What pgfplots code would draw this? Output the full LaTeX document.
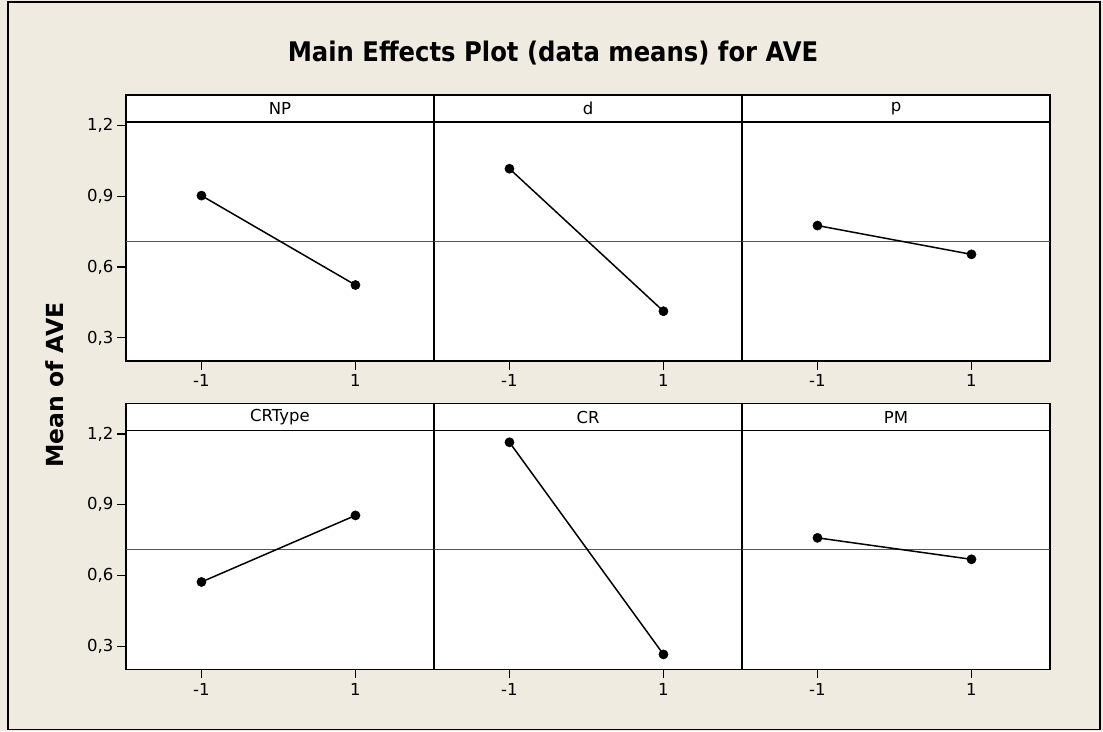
\documentclass[border=0pt]{standalone}
\usepackage{fontspec}
\setmainfont{DejaVu Sans}
\newfontfamily\titlefont{DejaVu Sans}[FakeStretch=0.9]
\usepackage{pgfplots}
\pgfplotsset{compat=1.18}
\definecolor{bgbeige}{RGB}{239,235,224}
\definecolor{meangray}{RGB}{85,85,85}
\pgfplotsset{
  mepanel/.style={
    scale only axis, width=308pt, height=239pt, anchor=north west,
    xmin=-1.98, xmax=2.02, ymin=0.202, ymax=1.215,
    xtick={-1,1}, xticklabels={-1,1},
    ytick={0.3,0.6,0.9,1.2}, yticklabels={{0,3},{0,6},{0,9},{1,2}},
    tick align=outside, major tick length=9pt,
    xtick pos=bottom, ytick pos=left,
    tick style={black, line width=1.2pt},
    axis line style={black, line width=1.5pt},
    axis background/.style={fill=white},
    tick label style={font=\fontsize{16.5}{19}\selectfont, text=black},
    xticklabel style={yshift=-1pt},
  },
  noy/.style={yticklabels={}, ytick style={draw=none}},
  meanline/.style={meangray, line width=1.1pt, forget plot},
  effect/.style={black, line width=1.5pt, mark=*, mark size=4.6pt, mark options={fill=black, line width=0.5pt}},
}
\newcommand{\strip}[2]{%
  \draw[black, line width=1.5pt, fill=white] (#1.north west) rectangle ([yshift=27pt]#1.north east);
  \node[font=\fontsize{16.5}{19}\selectfont, anchor=center] at ([yshift=13.5pt]#1.north) {#2};
}
\begin{document}
\begin{tikzpicture}
\useasboundingbox (0pt,0pt) rectangle (1103pt,731pt);
\fill[bgbeige] (0pt,0pt) rectangle (1103pt,731pt);
\draw[black, line width=1.5pt] (8pt,1.5pt) rectangle (1100pt,729pt);
\node[font=\titlefont\bfseries\fontsize{27}{30}\selectfont] at (553pt,678pt) {Main Effects Plot (data means) for AVE};
\node[font=\bfseries\fontsize{23.5}{26}\selectfont, rotate=90] at (55pt,346pt) {Mean of AVE};

% top row
\begin{axis}[mepanel, name=pNP, at={(126pt,609pt)}]
\addplot[meanline] coordinates {(-1.98,0.71) (2.02,0.71)};
\addplot[effect] coordinates {(-1,0.903) (1,0.524)};
\end{axis}
\strip{pNP}{NP}
\begin{axis}[mepanel, noy, name=pd, at={(434pt,609pt)}]
\addplot[meanline] coordinates {(-1.98,0.71) (2.02,0.71)};
\addplot[effect] coordinates {(-1,1.017) (1,0.413)};
\end{axis}
\strip{pd}{d}
\begin{axis}[mepanel, noy, name=pp, at={(742pt,609pt)}]
\addplot[meanline] coordinates {(-1.98,0.71) (2.02,0.71)};
\addplot[effect] coordinates {(-1,0.776) (1,0.654)};
\end{axis}
\strip{pp}{p}

% bottom row
\begin{axis}[mepanel, name=pCRT, at={(126pt,300.5pt)}]
\addplot[meanline] coordinates {(-1.98,0.71) (2.02,0.71)};
\addplot[effect] coordinates {(-1,0.573) (1,0.855)};
\end{axis}
\strip{pCRT}{CRType}
\begin{axis}[mepanel, noy, name=pCR, at={(434pt,300.5pt)}]
\addplot[meanline] coordinates {(-1.98,0.71) (2.02,0.71)};
\addplot[effect] coordinates {(-1,1.165) (1,0.266)};
\end{axis}
\strip{pCR}{CR}
\begin{axis}[mepanel, noy, name=pPM, at={(742pt,300.5pt)}]
\addplot[meanline] coordinates {(-1.98,0.71) (2.02,0.71)};
\addplot[effect] coordinates {(-1,0.760) (1,0.669)};
\end{axis}
\strip{pPM}{PM}
\end{tikzpicture}
\end{document}
